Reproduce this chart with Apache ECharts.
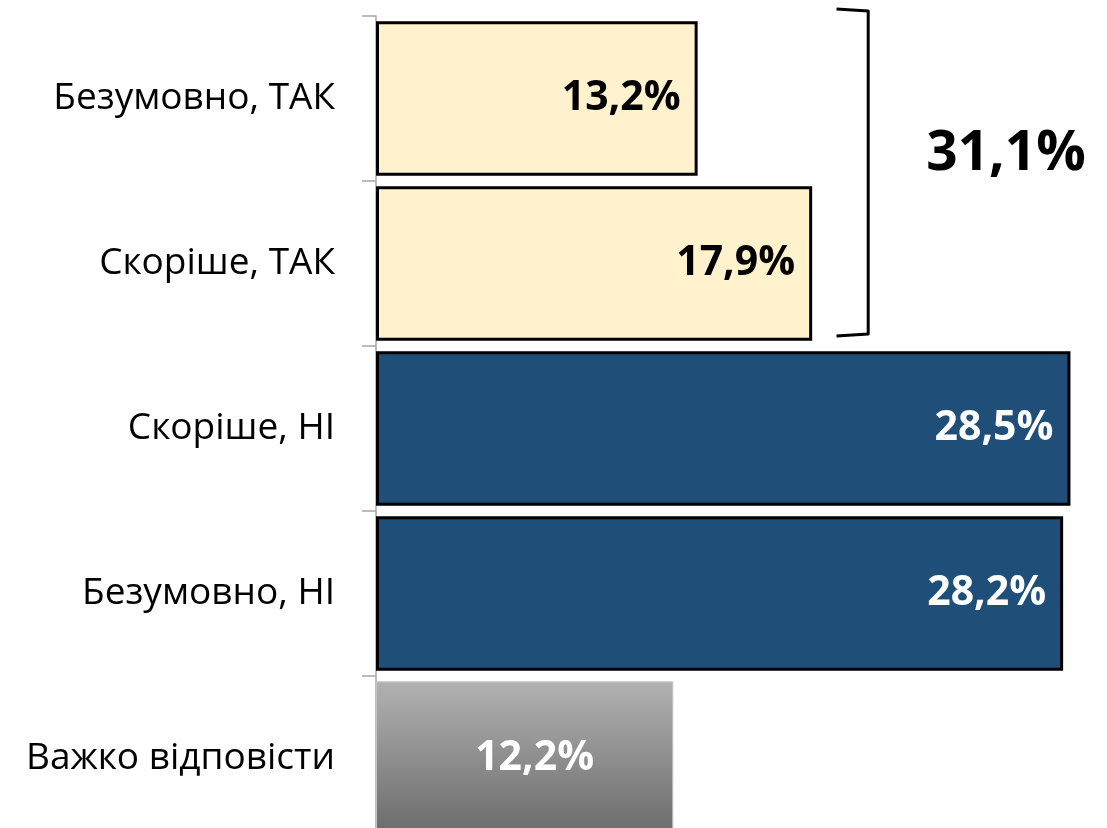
<!DOCTYPE html>
<html><head><meta charset="utf-8">
<script src="https://cdn.jsdelivr.net/npm/echarts@6/dist/echarts.min.js"></script>
<style>html,body{margin:0;padding:0;overflow:hidden;background:#fff}#c{width:1107px;height:845px}</style>
</head><body><div id="c"></div>
<script>
const categories = ['Безумовно, ТАК', 'Скоріше, ТАК', 'Скоріше, НІ', 'Безумовно, НІ', 'Важко відповісти'];
const values = [13.2, 17.9, 28.5, 28.2, 12.2];
const groupIdx = [0, 1]; // bracketed "yes" group

const FONT = '"Open Sans", "Noto Sans", sans-serif';
const fmt = v => v.toFixed(1).replace('.', ',') + '%';

const cream = {color: '#FFF2CC', borderColor: '#000', borderWidth: 3};
const blue = {color: '#1F4E79', borderColor: '#000', borderWidth: 3};
const gray = {
  color: {type: 'linear', x: 0, y: 0, x2: 0, y2: 1, colorStops: [{offset: 0, color: '#b2b2b2'}, {offset: 1, color: '#6a6a6a'}]},
  borderColor: '#c4c4c4', borderWidth: 1
};
const styles = [cream, cream, blue, blue, gray];
const labelColors = ['#000', '#000', '#fff', '#fff', '#fff'];

const data = values.map((v, i) => ({
  value: v,
  itemStyle: styles[i],
  label: i === 4
    ? {position: 'inside', offset: [10, 0], color: labelColors[i]}
    : {position: 'insideRight', distance: 17, color: labelColors[i]}
}));

const chart = echarts.init(document.getElementById('c'), null, {renderer: 'canvas'});
chart.setOption({
  animation: false,
  grid: {left: 376, right: 0, top: 16, bottom: 4, containLabel: false},
  xAxis: {type: 'value', min: 0, max: 30, show: false},
  yAxis: {
    type: 'category', data: categories, inverse: true,
    axisLine: {show: true, lineStyle: {color: '#a6a6a6', width: 1.5}},
    axisTick: {show: true, length: 14, lineStyle: {color: '#a6a6a6', width: 1.5}},
    axisLabel: {margin: 41, fontFamily: FONT, fontSize: 37, color: '#000'}
  },
  series: [{
    type: 'bar', data: data, barCategoryGap: '6.5%',
    label: {show: true, fontFamily: FONT, fontWeight: 'bold', fontSize: 41, formatter: p => fmt(p.value)}
  }]
});

// Bracket annotation around the "yes" group
const sum = groupIdx.reduce((s, i) => s + values[i], 0);
const band = chart.convertToPixel({yAxisIndex: 0}, 1) - chart.convertToPixel({yAxisIndex: 0}, 0);
const yTop = chart.convertToPixel({yAxisIndex: 0}, groupIdx[0]) - band / 2 - 7;
const yBot = chart.convertToPixel({yAxisIndex: 0}, groupIdx[1]) + band / 2 - 10;
const xL = chart.convertToPixel({xAxisIndex: 0}, 18.9);
const xR = chart.convertToPixel({xAxisIndex: 0}, 20.2);
chart.setOption({
  graphic: [
    {type: 'polyline', shape: {points: [[xL, yTop], [xR, yTop + 2], [xR, yBot - 2], [xL, yBot]]},
     style: {stroke: '#000', lineWidth: 3, fill: null, lineJoin: 'round'}},
    {type: 'text', x: 1006, y: 154, style: {text: fmt(sum), font: `bold 55px ${FONT}`, fill: '#000', align: 'center', verticalAlign: 'middle'}}
  ]
});
</script></body></html>
